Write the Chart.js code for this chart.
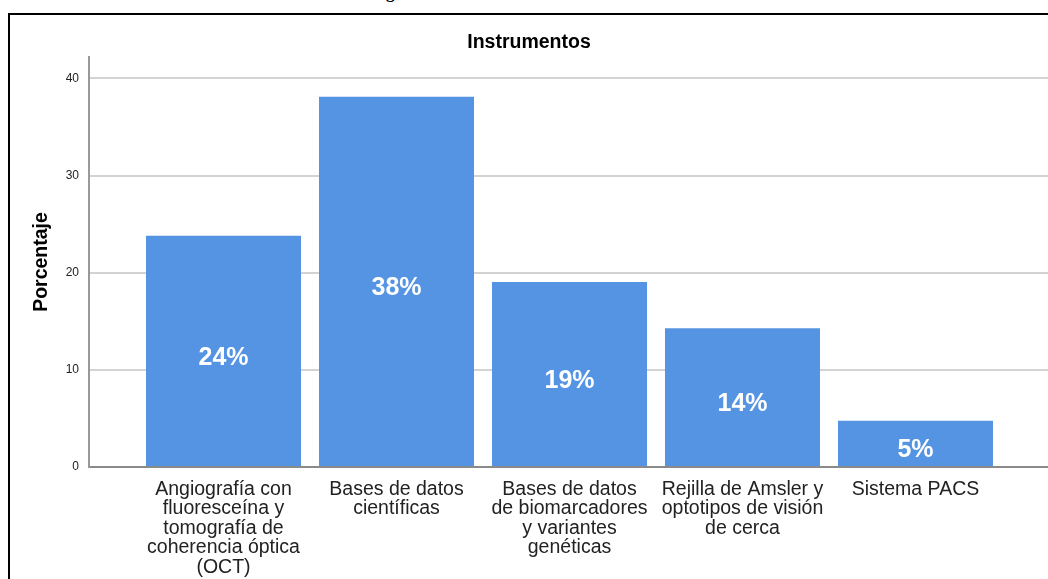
<!DOCTYPE html>
<html>
<head>
<meta charset="utf-8">
<script src="https://cdn.jsdelivr.net/npm/chart.js@4"></script>
<style>
  html, body { margin: 0; padding: 0; background: #fff; overflow: hidden; width: 1048px; height: 579px; }
  #frame { position: absolute; left: 8px; top: 13px; width: 1100px; height: 700px;
           border-left: 2px solid #000; border-top: 2px solid #000; }
  #chart { position: absolute; left: 10px; top: 15px; }
  #cut { position: absolute; left: 386px; top: -17px; font: bold 17px "Liberation Serif", serif; color: #000; }
</style>
</head>
<body>
<div id="cut">g</div>
<div id="frame"></div>
<canvas id="chart" width="1050" height="582"></canvas>
<script>
// categories, wrapped as in the original
const categories = [
    ['Angiografía con', 'fluoresceína y', 'tomografía de', 'coherencia óptica', '(OCT)'],
    ['Bases de datos', 'científicas'],
    ['Bases de datos', 'de biomarcadores', 'y variantes', 'genéticas'],
    ['Rejilla de Amsler y', 'optotipos de visión', 'de cerca'],
    ['Sistema PACS']
];
const percentages = [23.81, 38.10, 19.05, 14.29, 4.76];
const barLabels = ['24%', '38%', '19%', '14%', '5%'];
const yTicks = [0, 10, 20, 30, 40];

const fontFamily = '"Liberation Sans", Arial, sans-serif';

// writes the percentage in the middle of every bar
const barText = {
    id: 'barText',
    afterDatasetsDraw(chart) {
        const ctx = chart.ctx;
        const meta = chart.getDatasetMeta(0);
        ctx.save();
        ctx.fillStyle = '#ffffff';
        ctx.font = 'bold 25px ' + fontFamily;
        ctx.textAlign = 'center';
        ctx.textBaseline = 'middle';
        meta.data.forEach((bar, i) => {
            ctx.fillText(barLabels[i], bar.x, (bar.y + bar.base) / 2 + 7);
        });
        ctx.restore();
    }
};

let ctx = document.getElementById('chart').getContext('2d');
new Chart(ctx, {
    type: 'bar',
    data: {
        datasets: [{
            data: percentages.map((v, i) => ({ x: i + 1, y: v })),
            backgroundColor: '#5594e2',
            borderWidth: 0,
            categoryPercentage: 1,
            barPercentage: 0.896
        }]
    },
    options: {
        responsive: false,
        animation: false,
        layout: { padding: { left: 0, right: 12, top: 0, bottom: 0 } },
        plugins: {
            legend: { display: false },
            tooltip: { enabled: false },
            title: {
                display: true,
                text: 'Instrumentos',
                color: '#000',
                font: { family: fontFamily, size: 19.5, weight: 'bold' },
                padding: { top: 16, bottom: 2.6 }
            }
        },
        scales: {
            x: {
                type: 'linear',
                offset: false,
                min: 0.2225,
                max: 5.766,
                grid: { display: false, drawTicks: false },
                border: { display: true, color: '#8a8a8a', width: 2 },
                afterBuildTicks: (scale) => {
                    scale.ticks = categories.map((c, i) => ({ value: i + 1 }));
                },
                afterFit: (scale) => { scale.height = 130; },
                ticks: {
                    autoSkip: false,
                    maxRotation: 0,
                    padding: 12.5,
                    color: '#222',
                    font: { family: fontFamily, size: 19.5, lineHeight: 1 },
                    callback: (value) => categories[Math.round(value) - 1]
                }
            },
            y: {
                min: 0,
                max: 42.2,
                afterBuildTicks: (scale) => {
                    scale.ticks = yTicks.map(v => ({ value: v }));
                },
                afterFit: (scale) => { scale.width = 79; },
                grid: { color: '#d3d3d3', lineWidth: 2, drawTicks: false },
                border: { display: true, color: '#999', width: 2 },
                ticks: {
                    padding: 10,
                    color: '#222',
                    font: { family: fontFamily, size: 12 }
                },
                title: {
                    display: true,
                    text: 'Porcentaje',
                    color: '#000',
                    font: { family: fontFamily, size: 19.5, weight: 'bold' },
                    padding: { top: 20, bottom: 0 }
                }
            }
        }
    },
    plugins: [barText]
});
</script>
</body>
</html>
